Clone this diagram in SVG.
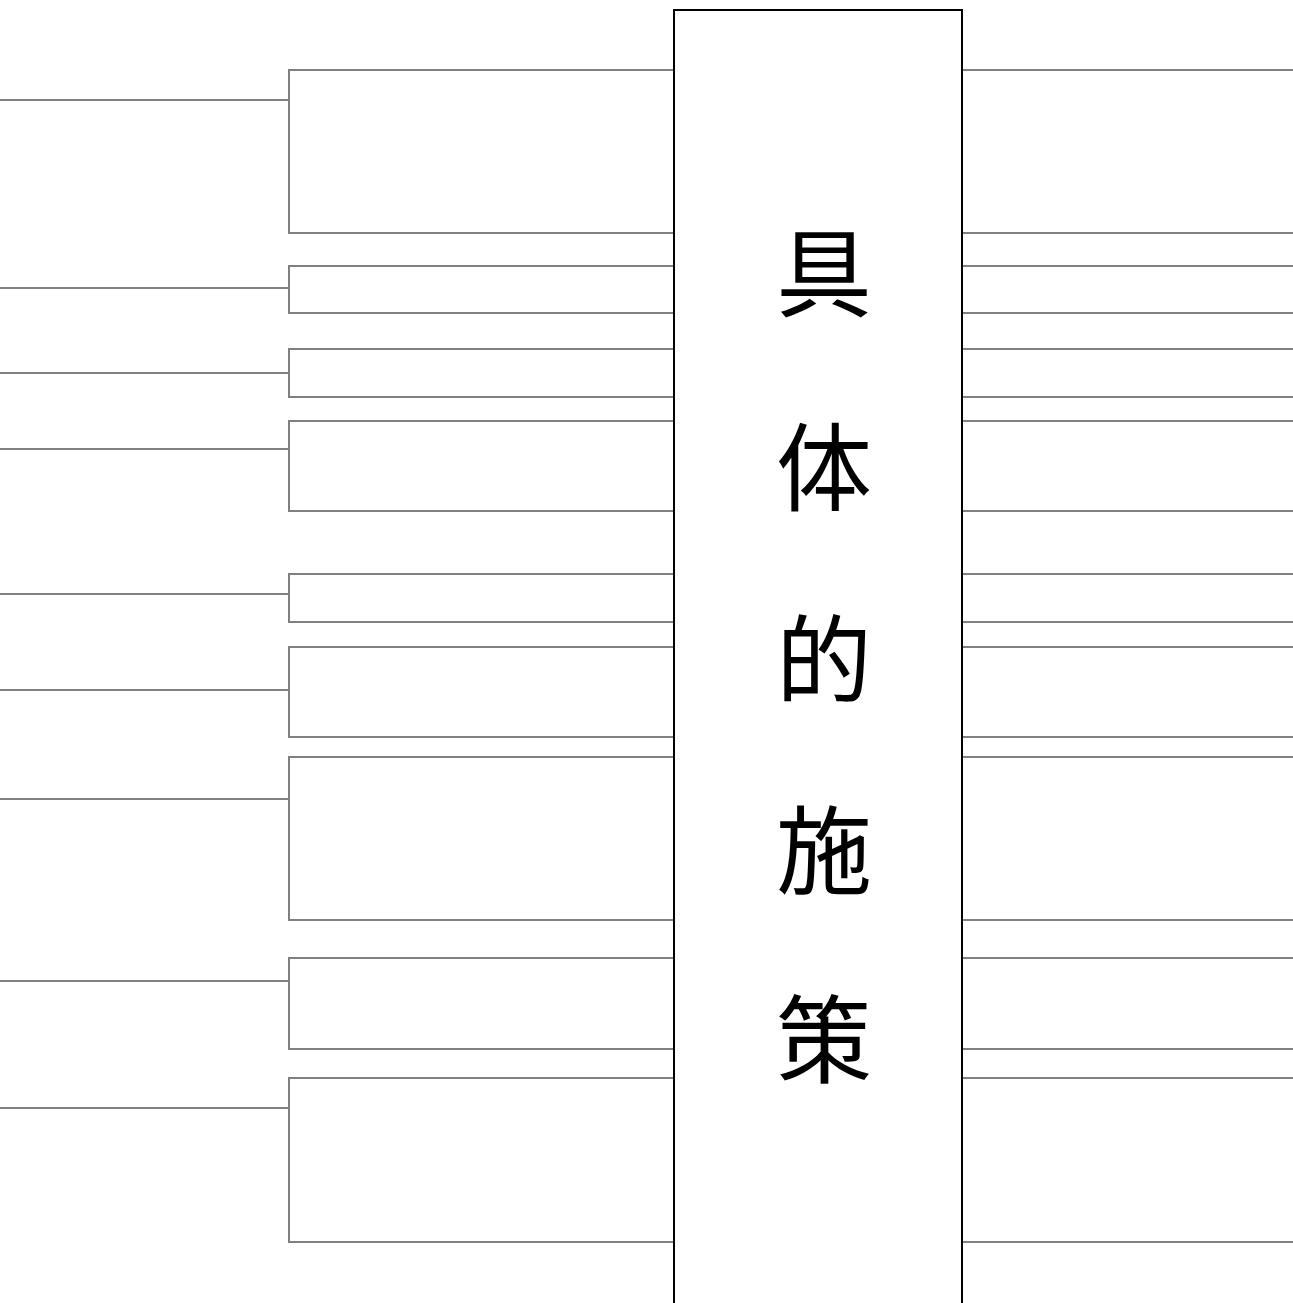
<svg xmlns="http://www.w3.org/2000/svg" width="1293" height="1303" viewBox="0 0 1293 1303">
<style>
.c{fill:none;stroke:#808080;stroke-width:2}
.box{fill:#fff;stroke:#000;stroke-width:2}
.t{font-family:"Noto Sans CJK JP","Noto Sans CJK SC",sans-serif;font-size:96px;fill:#000;text-anchor:middle}
</style>
<rect width="1293" height="1303" fill="#fff"/>
<g id="connectors">
<path class="c" d="M0 100H289M674 70H289V233H674"/>
<path class="c" d="M0 288H289M674 266H289V313H674"/>
<path class="c" d="M0 373H289M674 349H289V397H674"/>
<path class="c" d="M0 449H289M674 421H289V511H674"/>
<path class="c" d="M0 594H289M674 574H289V622H674"/>
<path class="c" d="M0 690H289M674 647H289V737H674"/>
<path class="c" d="M0 799H289M674 757H289V920H674"/>
<path class="c" d="M0 981H289M674 958H289V1049H674"/>
<path class="c" d="M0 1108H289M674 1078H289V1242H674"/>
<path class="c" d="M962 70H1293M962 233H1293M962 266H1293M962 313H1293M962 349H1293M962 397H1293M962 421H1293M962 511H1293M962 574H1293M962 622H1293M962 647H1293M962 737H1293M962 757H1293M962 920H1293M962 958H1293M962 1049H1293M962 1078H1293M962 1242H1293"/>
</g>
<g id="center">
<rect class="box" x="674" y="10" width="288" height="1310"/>
<text class="t" x="824" y="309">具</text>
<text class="t" x="824" y="503">体</text>
<text class="t" x="824" y="695">的</text>
<text class="t" x="824" y="886">施</text>
<text class="t" x="824" y="1075">策</text>
</g>
</svg>
